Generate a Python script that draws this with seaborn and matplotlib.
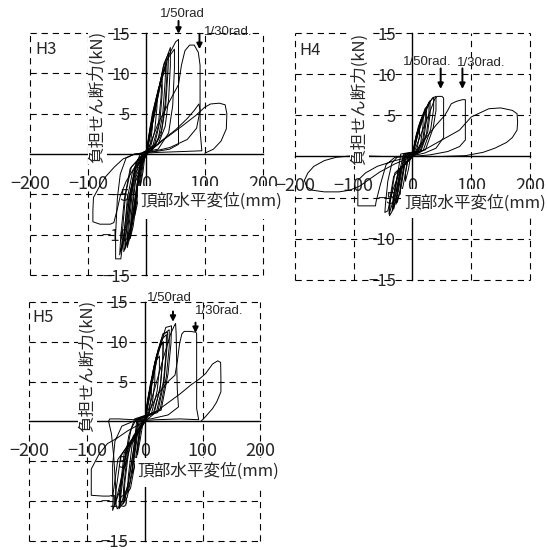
import pandas as pd
import matplotlib
matplotlib.use('Agg')
import matplotlib.pyplot as plt
from matplotlib.patches import Rectangle
import seaborn as sns

#%% Loops (x = top displacement mm, y = shear kN)
h3_loop1 = [(0,0),(3,1.8),(7,3.6),(10,4.4),(10,3.2),(7,1.4),(2,0.4),(-3,-0.4),(-6,-2.2),(-11,-4.2),(-11,-3.0),(-7,-1.0),(0,0)]
h3_loop2 = [(0,0),(4,2.2),(10,5.0),(18,7.3),(18,5.8),(14,2.8),(6,0.6),(-4,-0.2),(-8,-2.4),(-14,-5.6),(-20,-7.6),(-19,-5.8),(-13,-2.2),(0,0)]
h3_loop3 = [(0,0),(5,2.4),(12,5.4),(20,8.0),(27,9.3),(27,7.6),(23,4.0),(14,1.2),(-5,0.1),(-10,-2.4),(-17,-6.0),(-23,-9.0),(-28,-10.5),(-27,-8.4),(-21,-3.8),(0,0)]
h3_loop3b = [(0,0.3),(6,2.8),(14,6.0),(22,8.4),(26,8.6),(25,7.0),(20,3.4),(10,0.8),(-8,0.0),(-13,-3.0),(-20,-7.0),(-26,-9.2),(-25,-7.4),(-18,-2.8),(0,0.3)]
h3_loop4 = [(0,0),(6,2.6),(14,5.8),(24,9.0),(35,11.4),(35,9.6),(32,6.2),(26,3.0),(14,0.9),(-6,0.2),(-12,-2.6),(-19,-6.0),(-26,-9.6),(-33,-11.6),(-32,-9.4),(-27,-5.0),(-18,-1.8),(0,0)]
h3_loop4b = [(0,0.3),(8,3.2),(17,6.8),(27,10.0),(33,10.9),(32,9.0),(28,5.0),(20,1.8),(6,0.4),(-8,0.1),(-14,-3.2),(-22,-7.4),(-31,-10.8),(-30,-9.0),(-24,-4.4),(-14,-1.2),(0,0.3)]
h3_loop5 = [(0,0),(8,3.0),(18,7.0),(29,10.8),(41,13.2),(41,11.0),(38,6.8),(32,3.4),(20,1.2),(-6,0.2),(-14,-2.8),(-22,-6.8),(-30,-10.4),(-39,-12.1),(-38,-9.8),(-33,-5.6),(-24,-2.2),(0,0)]
h3_loop5b = [(0,0.3),(9,3.4),(20,7.6),(30,11.2),(38,12.5),(37,10.4),(33,6.0),(25,2.4),(10,0.5),(-8,0.1),(-16,-3.6),(-25,-8.2),(-37,-11.8),(-35,-9.6),(-29,-5.0),(-18,-1.4),(0,0.3)]
h3_loop6 = [(0,0),(10,3.6),(24,8.6),(38,12.2),(50,13.9),(55,14.2),(55,8.0),(55,1.2),(40,0.6),(15,0.3),(-10,0.1),(-20,-1.6),(-28,-5.0),(-37,-9.6),(-46,-12.5),(-44,-10.0),(-38,-5.6),(-28,-1.8),(-10,-0.3),(0,0)]
h3_loop6b = [(0,0.3),(10,3.6),(22,8.0),(34,11.6),(48,13.0),(48,10.6),(45,6.0),(38,2.6),(20,0.6),(0,0.3),(-18,-1.2),(-26,-5.0),(-34,-9.4),(-43,-12.0),(-41,-9.4),(-36,-5.0),(-26,-1.6),(0,0.3)]
h3_loop7 = [(0,0),(20,3.8),(40,6.6),(55,8.6),(60,11.0),(66,12.8),(74,13.5),(82,13.5),(89,12.6),(92,11.0),(92,6.0),(92,3.0),(95,0.4),(60,0.3),(20,0.2),(-20,0.0),(-35,-0.5),(-45,-2.5),(-50,-5.5),(-53,-10.0),(-53,-13.0),(-44,-13.0),(-40,-10.5),(-32,-6.0),(-20,-2.5),(0,0)]
h3_loop8 = [(0,0),(25,1.6),(50,3.0),(70,4.4),(82,5.4),(90,6.2),(92,5.4),(86,3.2),(70,1.8),(40,0.8),(10,0.3),(-20,0.0),(-40,-0.6),(-55,-1.6),(-70,-2.8),(-82,-4.2),(-91,-5.4),(-92,-7.0),(-92,-8.4),(-80,-8.7),(-62,-8.7),(-56,-8.5),(-50,-6.8),(-45,-5.2),(-35,-3.4),(-20,-1.6),(0,0)]
h3_loop9 = [(0,0),(30,1.8),(60,3.4),(85,4.8),(100,5.8),(110,6.2),(125,6.3),(135,6.1),(138,5.0),(137,3.1),(128,1.6),(115,0.6),(100,0.1)]

h4_loop1 = [(0,0),(3,1.4),(7,2.8),(12,3.6),(12,2.6),(8,1.0),(2,0.2),(-4,-0.3),(-7,-1.6),(-12,-3.0),(-12,-2.0),(-8,-0.6),(0,0)]
h4_loop2 = [(0,0),(4,1.8),(10,3.6),(18,5.0),(18,3.8),(14,1.6),(5,0.3),(-8,0.1),(-11,-1.6),(-16,-3.6),(-20,-4.6),(-20,-3.4),(-14,-1.0),(0,0)]
h4_loop3 = [(0,0),(5,2.0),(12,4.0),(22,5.9),(22,4.6),(18,2.2),(8,0.4),(-10,0.2),(-14,-1.4),(-20,-4.0),(-26,-5.6),(-26,-4.2),(-19,-1.4),(0,0)]
h4_loop3b = [(0,0.2),(6,2.3),(14,4.4),(24,6.0),(24,4.6),(19,2.0),(8,0.3),(-12,0.2),(-16,-1.8),(-22,-4.4),(-28,-5.8),(-28,-4.4),(-20,-1.6),(0,0.2)]
h4_loop4 = [(0,0),(7,2.4),(16,4.6),(28,6.6),(28,5.2),(24,2.8),(12,0.5),(-12,0.3),(-17,-1.2),(-24,-4.2),(-32,-6.4),(-32,-4.8),(-24,-1.8),(0,0)]
h4_loop4b = [(0,0.2),(8,2.6),(18,5.0),(30,6.8),(30,5.2),(26,3.0),(14,0.6),(-14,0.3),(-19,-1.6),(-26,-4.6),(-34,-6.6),(-33,-5.0),(-25,-2.0),(0,0.2)]
h4_loop5 = [(0,0),(9,2.6),(20,5.0),(30,6.7),(36,7.2),(36,5.8),(31,3.3),(18,0.7),(-15,0.3),(-20,-1.2),(-28,-4.4),(-35,-6.7),(-39,-7.2),(-38,-5.6),(-30,-2.0),(0,0)]
h4_loop5b = [(0,0.2),(10,3.0),(22,5.8),(34,7.1),(40,7.3),(40,5.6),(35,3.4),(22,0.8),(-20,0.3),(-24,-1.6),(-31,-5.0),(-40,-7.0),(-39,-5.4),(-32,-2.4),(0,0.2)]
h4_loop6 = [(0,0),(15,2.8),(30,5.5),(38,7.0),(42,7.3),(50,7.3),(53,7.1),(53,4.5),(53,2.3),(40,1.0),(20,0.4),(0,0.1),(-25,0.0),(-35,-0.8),(-42,-3.0),(-46,-5.8),(-47,-6.8),(-42,-6.6),(-34,-4.2),(-20,-1.5),(0,0)]
h4_loop7 = [(0,0),(20,2.0),(40,3.8),(55,5.0),(60,5.6),(66,6.4),(75,6.7),(85,6.9),(90,6.9),(90,4.5),(90,2.0),(80,1.2),(60,0.6),(30,0.2),(0,0.0),(-30,-0.1),(-45,-1.0),(-55,-3.5),(-62,-5.5),(-63,-6.0),(-75,-6.0),(-93,-6.0),(-93,-4.5),(-93,-2.9),(-80,-2.0),(-60,-1.2),(-30,-0.5),(0,0)]
h4_loop8 = [(0,0),(30,1.2),(60,2.4),(80,3.2),(90,4.0),(100,4.8),(115,5.3),(130,5.8),(150,5.9),(170,5.6),(178,5.2),(179,4.2),(178,3.2),(170,2.3),(160,1.7),(140,1.0),(120,0.5),(90,0.1),(50,0.0),(0,0.0),(-50,0.0),(-100,0.1),(-130,-0.1),(-150,-0.5),(-168,-1.2),(-178,-2.0),(-184,-2.9),(-180,-3.7),(-170,-4.1),(-150,-4.3),(-125,-4.3),(-107,-4.1),(-90,-3.6),(-76,-2.9),(-56,-1.9),(-30,-0.9),(0,0)]

h5_loop1 = [(0,0),(3,1.8),(7,3.6),(11,4.4),(11,3.2),(7,1.2),(2,0.3),(-4,-0.4),(-8,-2.2),(-13,-4.2),(-13,-3.0),(-8,-1.0),(0,0)]
h5_loop2 = [(0,0),(4,2.4),(10,5.0),(17,6.6),(17,5.0),(13,2.4),(5,0.5),(-6,0.1),(-10,-2.4),(-16,-5.2),(-22,-6.6),(-21,-5.0),(-15,-1.8),(0,0)]
h5_loop3 = [(0,0),(5,2.6),(12,5.4),(19,7.6),(25,8.2),(25,6.6),(21,3.8),(11,0.9),(-8,0.2),(-12,-2.6),(-19,-6.0),(-25,-8.4),(-30,-9.0),(-29,-7.0),(-22,-2.8),(0,0)]
h5_loop4 = [(0,0),(6,3.0),(14,6.4),(23,9.0),(31,9.9),(31,8.2),(27,4.6),(16,1.0),(-10,0.3),(-15,-2.8),(-23,-6.8),(-31,-9.6),(-38,-10.4),(-37,-8.4),(-30,-3.6),(0,0)]
h5_loop4b = [(0,0.3),(7,3.4),(16,7.0),(26,9.6),(32,10.0),(31,8.0),(26,4.0),(14,0.9),(-12,0.3),(-17,-3.4),(-26,-7.6),(-36,-10.0),(-35,-7.8),(-27,-3.0),(0,0.3)]
h5_loop5 = [(0,0),(8,3.6),(17,7.4),(28,10.2),(37,10.9),(37,9.0),(32,5.0),(20,1.2),(-12,0.3),(-18,-2.9),(-28,-7.4),(-37,-10.2),(-45,-11.0),(-44,-9.0),(-36,-4.0),(0,0)]
h5_loop5b = [(0,0.3),(9,4.0),(19,8.0),(31,11.0),(39,11.2),(38,9.2),(33,5.0),(22,1.1),(-14,0.3),(-20,-3.6),(-30,-8.2),(-44,-10.8),(-42,-8.6),(-33,-3.6),(0,0.3)]
h5_loop6 = [(0,0),(10,3.8),(21,8.0),(33,11.0),(42,11.5),(42,9.4),(37,5.6),(26,1.4),(-15,0.3),(-24,-1.0),(-34,-4.8),(-44,-8.8),(-56,-11.2),(-55,-9.0),(-47,-4.8),(0,0)]
h5_loop6b = [(0,0.3),(11,4.4),(23,8.6),(36,11.8),(46,12.0),(45,9.8),(40,6.0),(28,1.4),(-18,0.3),(-28,-1.8),(-38,-6.2),(-52,-10.6),(-50,-8.6),(-42,-4.4),(0,0.3)]
h5_loop7 = [(0,0),(16,3.9),(32,8.0),(44,10.9),(50,11.9),(53,12.3),(54,11.0),(55,7.0),(56,4.0),(58,1.8),(40,0.8),(10,0.3),(-20,0.2),(-45,0.3),(-61,0.3),(-63,0.0),(-58,-1.6),(-54,-4.5),(-51,-8.0),(-50,-10.5),(-48,-11.0),(-44,-10.6),(-36,-6.0),(-20,-1.8),(0,0)]
h5_loop8 = [(0,0),(20,3.2),(40,5.0),(52,5.8),(56,7.5),(60,9.8),(64,11.0),(68,11.3),(78,11.3),(88,11.2),(89.5,11.0),(89.5,6.0),(89.5,1.6),(93,0.2),(60,0.3),(20,0.2),(-20,0.0),(-40,-0.6),(-52,-2.5),(-56,-5.5),(-56,-9.3),(-62,-9.4),(-73,-9.4),(-93,-9.3),(-93,-7.5),(-93,-6.0),(-80,-4.2),(-65,-2.8),(-50,-2.2),(-30,-1.2),(0,0)]
h5_loop9 = [(0,0),(30,1.8),(60,3.4),(80,4.6),(94,5.3),(105,6.0),(117,7.2),(126,7.6),(131,7.4),(131.5,5.5),(131.5,3.7),(124,2.4),(117,1.6),(105,0.6),(97,0.0)]

x_ticks = [-200, -100, 0, 100, 200]
y_ticks = [-15, -10, -5, 5, 10, 15]
x_label = '頂部水平変位(mm)'
y_label = '負担せん断力(kN)'

# (text, text x, text y, ha, arrow x, arrow top, arrow tip)
h3_notes = [('1/50rad', 62, 17.3, 'center', 55, 16.5, 14.9), ('1/30rad.', 98, 15.1, 'left', 91, 14.9, 13.0)]
h4_notes = [('1/50rad.', 25, 11.5, 'center', 48, 10.7, 8.2), ('1/30rad.', 75, 11.4, 'left', 85, 10.7, 8.2)]
h5_notes = [('1/50rad', 4, 15.55, 'left', 48.5, 13.8, 12.5), ('1/30rad.', 86, 13.9, 'left', 87.5, 12.4, 11.1)]


def to_frame(loops):
    rows = []
    for i, loop in enumerate(loops):
        for x, y in loop:
            rows.append((i, x, y))
    return pd.DataFrame(rows, columns=['loop', 'x', 'y'])


def panel(ax, loops, name, name_xy, ylab_xy, xlab_xy, cover, notes):
    dash = (0, (4.5, 3.5))
    ax.set_xlim(-200, 200)
    ax.set_ylim(-15, 15)
    for side in ['top', 'right']:
        ax.spines[side].set_visible(False)
    for side in ['left', 'bottom']:
        ax.spines[side].set_position('zero')
        ax.spines[side].set_color('black')
        ax.spines[side].set_linewidth(1.0)
    for gx in [-200, -100, 100, 200]:
        ax.axvline(gx, color='black', lw=0.8, ls=dash, zorder=1, clip_on=False)
    for gy in [-15, -10, -5, 5, 10, 15]:
        ax.axhline(gy, color='black', lw=0.8, ls=dash, zorder=1, clip_on=False)

    sns.lineplot(data=to_frame(loops), x='x', y='y', units='loop', estimator=None,
                 sort=False, color='black', lw=0.7, ax=ax, legend=False, zorder=3)
    ax.set_xlabel('')
    ax.set_ylabel('')
    ax.set_xticks(x_ticks)
    ax.set_yticks(y_ticks)
    ax.tick_params(axis='x', length=0, pad=15, labelsize=13)
    ax.tick_params(axis='y', length=0, pad=12, labelsize=12)

    ax.text(name_xy[0], name_xy[1], name, fontsize=12, va='center', ha='left')
    ax.text(ylab_xy[0], ylab_xy[1], y_label, rotation=90, fontsize=12, ha='center', va='center',
            zorder=6, bbox=dict(boxstyle='square,pad=0.05', fc='white', ec='none'))
    ax.add_patch(Rectangle((cover[0], cover[1]), cover[2] - cover[0], cover[3] - cover[1],
                           fc='white', ec='none', zorder=5, clip_on=False))
    ax.text(xlab_xy[0], xlab_xy[1], x_label, fontsize=12, ha='left', va='center', zorder=6)

    for txt, tx, ty, ha, axx, y0, y1 in notes:
        ax.text(tx, ty, txt, fontsize=9.5, ha=ha, va='center', zorder=6,
                family=['Liberation Sans', 'DejaVu Sans'])
        ax.annotate('', xy=(axx, y1), xytext=(axx, y0), annotation_clip=False, zorder=6,
                    arrowprops=dict(arrowstyle='-|>', color='black', lw=1.4,
                                    mutation_scale=8, shrinkA=0, shrinkB=0))


#%% Plot
sns.set_theme(style='white')
plt.rcParams['font.family'] = ['Noto Sans CJK JP', 'DejaVu Sans']
plt.rcParams['lines.scale_dashes'] = False

fig = plt.figure(figsize=(5.48, 5.50), dpi=100)
ax3 = fig.add_axes([0.0547, 0.500, 0.4252, 0.440])
ax4 = fig.add_axes([0.5383, 0.491, 0.4288, 0.449])
ax5 = fig.add_axes([0.0538, 0.017, 0.4215, 0.434])

panel(ax3, [h3_loop1, h3_loop2, h3_loop3, h3_loop3b, h3_loop4, h3_loop4b, h3_loop5, h3_loop5b,
            h3_loop6, h3_loop6b, h3_loop7, h3_loop8, h3_loop9],
      'H3', (-190, 13.0), (-84, 7.1), (-10, -5.8), (-14, -8.1, 223, -4.0), h3_notes)
panel(ax4, [h4_loop1, h4_loop2, h4_loop3, h4_loop3b, h4_loop4, h4_loop4b, h4_loop5, h4_loop5b,
            h4_loop6, h4_loop7, h4_loop8],
      'H4', (-192, 12.9), (-90, 7.0), (-13.6, -5.65), (-19, -7.5, 225, -3.9), h4_notes)
panel(ax5, [h5_loop1, h5_loop2, h5_loop3, h5_loop4, h5_loop4b, h5_loop5, h5_loop5b,
            h5_loop6, h5_loop6b, h5_loop7, h5_loop8, h5_loop9],
      'H5', (-195, 13.1), (-99, 6.9), (-13, -6.3), (-18, -8.3, 224, -4.6), h5_notes)

fig.savefig('out.png', dpi=100)
